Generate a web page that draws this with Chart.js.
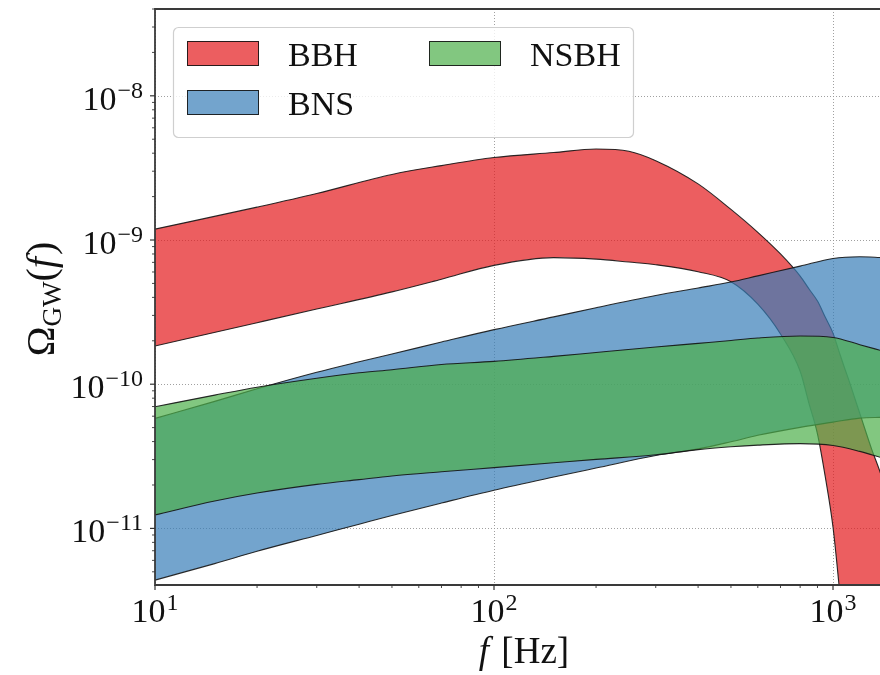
<!DOCTYPE html>
<html>
<head>
<meta charset="utf-8">
<script src="https://cdn.jsdelivr.net/npm/chart.js@4.4.0/dist/chart.umd.min.js"></script>
<style>
  html, body { margin: 0; padding: 0; background: #fff; }
  #wrap { width: 880px; height: 675px; position: relative; }
</style>
</head>
<body>
<div id="wrap"><canvas id="chart" width="880" height="675"></canvas></div>
<script>
const seriesNames = ["BBH", "BNS", "NSBH"];
const seriesColors = ["rgba(228, 26, 28, 0.7)", "rgba(55, 126, 184, 0.7)", "rgba(77, 175, 74, 0.7)"];
const edgeColor = "rgba(20, 20, 20, 0.9)";

// BBH band, frequency in Hz
const bbhFreq = [10, 20, 30, 50, 70, 100, 150, 200, 250, 300, 400, 500, 600, 700, 800, 850, 900, 950, 1000, 1040, 1085, 1100, 1200, 1300, 1380, 1500, 1600, 1700, 1800];
const bbhUpper = [1.19e-9, 1.69e-9, 2.10e-9, 2.85e-9, 3.28e-9, 3.73e-9, 4.04e-9, 4.28e-9, 4.13e-9, 3.55e-9, 2.45e-9, 1.63e-9, 1.13e-9, 8.0e-10, 5.62e-10, 4.57e-10, 3.77e-10, 2.90e-10, 2.26e-10, 1.71e-10, 1.27e-10, 1.16e-10, 6.26e-11, 3.55e-11, 2.42e-11, 1.24e-11, 6.7e-12, 3.3e-12, 1.4e-12];
const bbhLower = [1.84e-10, 2.67e-10, 3.32e-10, 4.37e-10, 5.35e-10, 6.67e-10, 7.55e-10, 7.37e-10, 7.03e-10, 6.74e-10, 6.03e-10, 5.14e-10, 3.59e-10, 2.23e-10, 1.23e-10, 7.31e-11, 4.51e-11, 2.24e-11, 1.02e-11, 4.2e-12, 1.4e-12, 1.1e-12, 3e-13, 1e-13, 6e-14, 3e-14, 2e-14, 1.5e-14, 1e-14];

// BNS and NSBH bands share one frequency grid
const nsFreq = [10, 15, 20, 30, 40, 50, 70, 100, 150, 200, 300, 400, 500, 600, 800, 1000, 1200, 1400];
const bnsUpper = [5.79e-11, 7.6e-11, 9.29e-11, 1.21e-10, 1.43e-10, 1.62e-10, 1.96e-10, 2.39e-10, 2.93e-10, 3.39e-10, 4.12e-10, 4.65e-10, 5.11e-10, 5.64e-10, 6.59e-10, 7.45e-10, 7.65e-10, 7.55e-10];
const bnsLower = [4.38e-12, 5.7e-12, 6.94e-12, 8.94e-12, 1.07e-11, 1.23e-11, 1.50e-11, 1.84e-11, 2.27e-11, 2.62e-11, 3.20e-11, 3.56e-11, 3.99e-11, 4.42e-11, 5.02e-11, 5.46e-11, 5.82e-11, 5.89e-11];
const nsbhUpper = [6.97e-11, 8.4e-11, 9.53e-11, 1.10e-10, 1.20e-10, 1.26e-10, 1.37e-10, 1.44e-10, 1.56e-10, 1.66e-10, 1.81e-10, 1.92e-10, 2.01e-10, 2.09e-10, 2.16e-10, 2.11e-10, 1.88e-10, 1.70e-10];
const nsbhLower = [1.24e-11, 1.55e-11, 1.76e-11, 2.02e-11, 2.18e-11, 2.31e-11, 2.47e-11, 2.64e-11, 2.85e-11, 3.01e-11, 3.24e-11, 3.52e-11, 3.68e-11, 3.78e-11, 3.87e-11, 3.76e-11, 3.42e-11, 3.08e-11];

// axes
const xMin = 10, xMax = 1376;
const yMin = 4.05e-12, yMax = 4e-8;
const xMajor = [10, 100, 1000];
const xTickLabels = [["10", "1"], ["10", "2"], ["10", "3"]];
const yMajor = [1e-11, 1e-10, 1e-9, 1e-8];
const yTickLabels = [["10", "\u221211"], ["10", "\u221210"], ["10", "\u22129"], ["10", "\u22128"]];

const serif = "'Liberation Serif', 'Times New Roman', serif";

const pts = (fs, vs) => fs.map((f, i) => ({ x: f, y: vs[i] }));

function band(idx, freq, upper, lower, order) {
  const common = { borderColor: edgeColor, borderWidth: 1.1, pointRadius: 0, cubicInterpolationMode: "monotone" };
  return [
    { ...common, label: seriesNames[idx], data: pts(freq, upper), fill: "+1", backgroundColor: seriesColors[idx], order: order + 1 },
    { ...common, label: seriesNames[idx] + " lower", data: pts(freq, lower), fill: false, order: order },
  ];
}

function minorValues(min, max, fromExp, toExp) {
  const out = [];
  for (let e = fromExp; e <= toExp; e++) {
    for (let k = 2; k <= 9; k++) {
      const v = k * Math.pow(10, e);
      if (v >= min && v <= max) out.push(v);
    }
  }
  return out;
}

function drawPower(ctx, base, exp, xLeft, baseY, expY) {
  ctx.font = "34px " + serif;
  ctx.fillText(base, xLeft, baseY);
  const bw = ctx.measureText(base).width;
  ctx.font = "24px " + serif;
  ctx.fillText(exp, xLeft + bw + 1, expY);
}

function powerWidth(ctx, base, exp) {
  ctx.font = "34px " + serif;
  const bw = ctx.measureText(base).width;
  ctx.font = "24px " + serif;
  return bw + 1 + ctx.measureText(exp).width;
}

const decor = {
  id: "decor",
  beforeDatasetsDraw(chart) {
    const { ctx, chartArea: a, scales: { x, y } } = chart;
    ctx.save();
    ctx.strokeStyle = "rgba(150, 150, 150, 0.9)";
    ctx.lineWidth = 1;
    ctx.setLineDash([1, 2]);
    xMajor.forEach((v) => {
      const px = Math.round(x.getPixelForValue(v)) + 0.5;
      ctx.beginPath(); ctx.moveTo(px, a.top); ctx.lineTo(px, a.bottom); ctx.stroke();
    });
    yMajor.forEach((v) => {
      const py = Math.round(y.getPixelForValue(v)) + 0.5;
      ctx.beginPath(); ctx.moveTo(a.left, py); ctx.lineTo(a.right, py); ctx.stroke();
    });
    ctx.restore();
  },
  afterDatasetsDraw(chart) {
    const { ctx, chartArea: a, scales: { x, y } } = chart;
    ctx.save();

    // spines
    ctx.strokeStyle = "#3a3a3a";
    ctx.lineWidth = 1.8;
    ctx.beginPath();
    ctx.moveTo(a.right + 2, a.top); ctx.lineTo(a.left, a.top);
    ctx.lineTo(a.left, a.bottom); ctx.lineTo(a.right + 2, a.bottom);
    ctx.stroke();

    // ticks
    ctx.strokeStyle = "#333";
    const tick = (x1, y1, x2, y2, w) => { ctx.lineWidth = w; ctx.beginPath(); ctx.moveTo(x1, y1); ctx.lineTo(x2, y2); ctx.stroke(); };
    xMajor.forEach((v) => { const px = x.getPixelForValue(v); tick(px, a.bottom, px, a.bottom + 5, 1.2); });
    minorValues(xMin, xMax, 1, 3).forEach((v) => { const px = x.getPixelForValue(v); tick(px, a.bottom, px, a.bottom + 3, 0.9); });
    yMajor.forEach((v) => { const py = y.getPixelForValue(v); tick(a.left, py, a.left - 5, py, 1.2); });
    minorValues(yMin, yMax, -12, -8).forEach((v) => { const py = y.getPixelForValue(v); tick(a.left, py, a.left - 3, py, 0.9); });

    // tick labels
    ctx.fillStyle = "#111";
    ctx.textAlign = "left";
    ctx.textBaseline = "alphabetic";
    yMajor.forEach((v, i) => {
      const py = y.getPixelForValue(v);
      const [b, e] = yTickLabels[i];
      const w = powerWidth(ctx, b, e);
      drawPower(ctx, b, e, a.left - 12 - w, py + 14, py + 2);
    });
    xMajor.forEach((v, i) => {
      const px = x.getPixelForValue(v);
      const [b, e] = xTickLabels[i];
      const w = powerWidth(ctx, b, e);
      drawPower(ctx, b, e, px - w / 2, a.bottom + 37, a.bottom + 25);
    });

    // x axis title: f [Hz]
    ctx.font = "italic 37px " + serif;
    const fW = ctx.measureText("f").width;
    ctx.font = "37px " + serif;
    const restW = ctx.measureText(" [Hz]").width;
    const sx = 524 - (fW + 3 + restW) / 2;
    ctx.font = "italic 37px " + serif;
    ctx.fillText("f", sx, 663);
    ctx.font = "37px " + serif;
    ctx.fillText(" [Hz]", sx + fW + 3, 663);

    // y axis title: Omega_GW(f)
    ctx.save();
    ctx.translate(54, 300);
    ctx.rotate(-Math.PI / 2);
    const parts = [
      { t: "\u03A9", f: "40px " + serif, dy: 0 },
      { t: "GW", f: "27px " + serif, dy: 7 },
      { t: "(", f: "40px " + serif, dy: 0 },
      { t: "f", f: "italic 40px " + serif, dy: 0 },
      { t: ")", f: "40px " + serif, dy: 0 },
    ];
    let total = 0;
    parts.forEach((p) => { ctx.font = p.f; p.w = ctx.measureText(p.t).width; total += p.w; });
    let cx = -total / 2;
    parts.forEach((p) => { ctx.font = p.f; ctx.fillText(p.t, cx, p.dy); cx += p.w + (p.t === "f" ? 2 : 0); });
    ctx.restore();

    // legend (two columns, column-major like the original)
    ctx.fillStyle = "rgba(255, 255, 255, 0.8)";
    ctx.strokeStyle = "#cfcfcf";
    ctx.lineWidth = 1.2;
    ctx.beginPath();
    ctx.roundRect(173.5, 27.5, 460, 110, 5);
    ctx.fill(); ctx.stroke();
    const slots = [[187, 41], [187, 90], [429, 41]];
    seriesNames.forEach((name, i) => {
      const [lx, ly] = slots[i];
      ctx.fillStyle = "#fff";
      ctx.fillRect(lx, ly, 72, 25);
      ctx.fillStyle = seriesColors[i];
      ctx.fillRect(lx, ly, 72, 25);
      ctx.strokeStyle = edgeColor;
      ctx.lineWidth = 1;
      ctx.strokeRect(lx + 0.5, ly + 0.5, 71, 24);
      ctx.fillStyle = "#111";
      ctx.font = "34px " + serif;
      ctx.fillText(name, lx + 101, ly + 25);
    });

    ctx.restore();
  },
};

const ctx = document.getElementById("chart").getContext("2d");
new Chart(ctx, {
  type: "line",
  data: {
    datasets: [
      ...band(0, bbhFreq, bbhUpper, bbhLower, 5),
      ...band(1, nsFreq, bnsUpper, bnsLower, 3),
      ...band(2, nsFreq, nsbhUpper, nsbhLower, 1),
    ],
  },
  options: {
    responsive: false,
    animation: false,
    events: [],
    layout: { padding: { left: 155, top: 9, right: 0, bottom: 90 } },
    plugins: { legend: { display: false }, tooltip: { enabled: false } },
    scales: {
      x: { type: "logarithmic", min: xMin, max: xMax, display: false },
      y: { type: "logarithmic", min: yMin, max: yMax, display: false },
    },
  },
  plugins: [decor],
});
</script>
</body>
</html>
